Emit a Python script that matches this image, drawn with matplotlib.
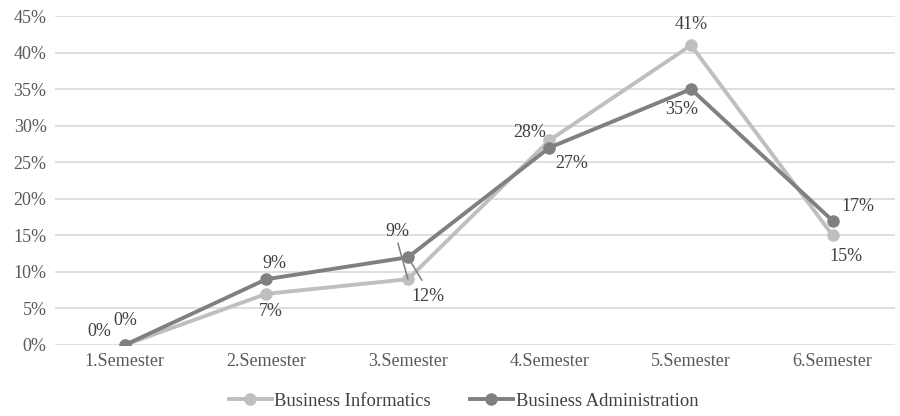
import matplotlib.pyplot as plt
from matplotlib.ticker import FuncFormatter

plt.rcParams['font.family'] = ['Liberation Serif', 'DejaVu Serif']

semesters = ['1.Semester', '2.Semester', '3.Semester', '4.Semester', '5.Semester', '6.Semester']
informatics = [0, 7, 9, 28, 41, 15]
administration = [0, 9, 12, 27, 35, 17]

# label offsets in pixels (dx, dy) for each point
inf_off = [(-26, 13), (4, -18), (-11, 48), (-20, 8), (0, 21), (13, -21)]
adm_off = [(0, 24), (8, 16), (20, -39), (22, -16), (-9, -20), (25, 14)]

fig = plt.figure(figsize=(9, 4.16), dpi=100)
ax = fig.add_axes([0.061, 0.1707, 0.9333, 0.7908])

x = range(len(semesters))
c_inf = '#bfbfbf'
c_adm = '#808080'
ax.plot(x, informatics, color=c_inf, lw=2.8, marker='o', ms=8, label='Business Informatics', zorder=3)
ax.plot(x, administration, color=c_adm, lw=2.8, marker='o', ms=8, label='Business Administration', zorder=4)

fs = 13
for i in x:
    ax.annotate(f'{informatics[i]}%', (i, informatics[i]), xytext=inf_off[i],
                textcoords='offset pixels', ha='center', va='center', fontsize=fs, color='#404040')
    ax.annotate(f'{administration[i]}%', (i, administration[i]), xytext=adm_off[i],
                textcoords='offset pixels', ha='center', va='center', fontsize=fs, color='#404040')

# leader lines at 3.Semester
ax.annotate('', (2, informatics[2]), xytext=(-10, 36), textcoords='offset pixels',
            arrowprops=dict(arrowstyle='-', color='#7f7f7f', lw=1.1, shrinkA=0, shrinkB=0))
ax.annotate('', (2, administration[2]), xytext=(14, -23), textcoords='offset pixels',
            arrowprops=dict(arrowstyle='-', color='#7f7f7f', lw=1.1, shrinkA=0, shrinkB=0))

ax.set_xlim(-0.494, 5.44)
ax.set_ylim(0, 45)
ax.set_yticks(range(0, 46, 5))
ax.yaxis.set_major_formatter(FuncFormatter(lambda v, p: f'{int(v)}%'))
ax.set_xticks(list(x))
ax.set_xticklabels(semesters)
ax.grid(axis='y', color='#d9d9d9', lw=1.2)
ax.set_axisbelow(True)
for s in ax.spines.values():
    s.set_visible(False)
ax.tick_params(length=0, labelsize=fs, colors='#595959', pad=6)

fig.legend(loc='lower center', ncol=2, frameon=False, fontsize=13.4, handlelength=2.3,
           handletextpad=0.15, columnspacing=2.1, bbox_to_anchor=(0.515, -0.025), labelcolor='#404040')

fig.savefig('out.png', dpi=100)
